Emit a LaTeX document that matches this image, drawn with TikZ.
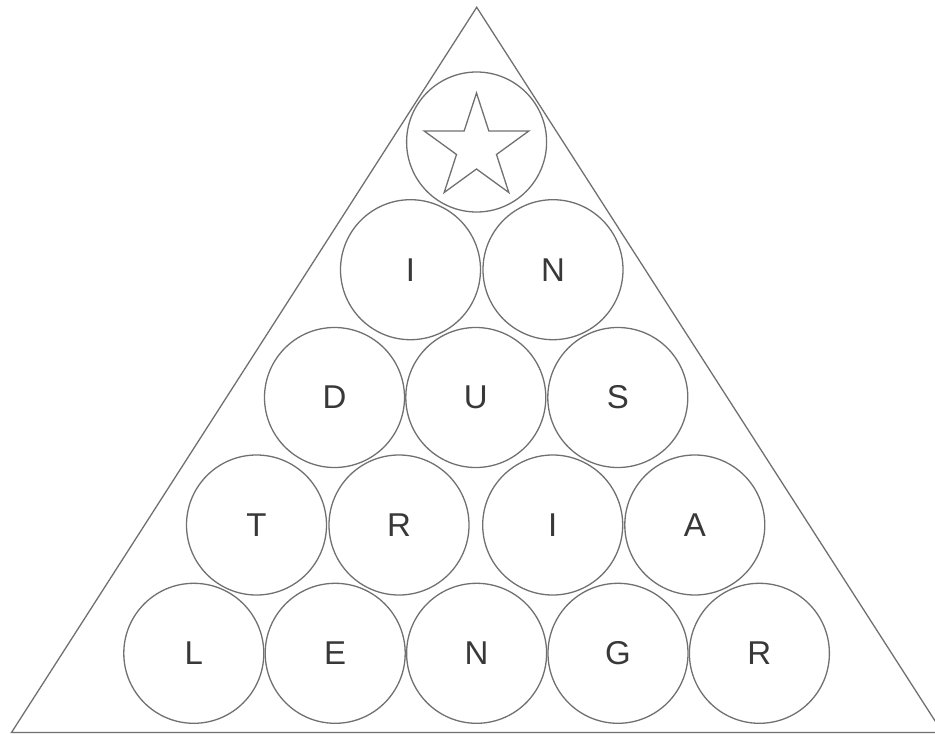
\documentclass[tikz,border=0pt]{standalone}
\usepackage{fontspec}
\setmainfont{Liberation Sans}
\usepackage{xcolor}
\usepackage{tikz}
\usetikzlibrary{shapes,positioning}

\definecolor{lineGray}{HTML}{707070}
\definecolor{letterGray}{HTML}{383838}

\begin{document}
\begin{tikzpicture}[
    x=1pt, y=-1pt,
    ball/.style={circle, draw=lineGray, line width=1.3pt, minimum size=140pt, inner sep=0pt, text=letterGray, font=\fontsize{33}{38}\selectfont},
    edge/.style={draw=lineGray, line width=1.3pt, line join=miter}
]
\useasboundingbox (0,0) rectangle (935,734);
\clip (0,0) rectangle (935,734);
% outer triangle
\coordinate (apex) at (476.7,7.3);
\coordinate (left) at (11.5,732.5);
\coordinate (right) at (942.5,732.5);
\draw[edge] (apex) -- (left) -- (right) -- cycle;
% top
\node[ball] (top) at (476.6,142) {};
\node[star, star points=5, star point ratio=2.618, draw=lineGray, line width=1.3pt, minimum size=110pt, inner sep=0pt] (topStar) at (476.5,148) {};
% row 2
\node[ball] (i1) at (410.5,269.7) {I};
\node[ball] (n1) at (553,269.7) {N};
% row 3
\node[ball] (d) at (334.5,397.5) {D};
\node[ball] (u) at (475.8,397.5) {U};
\node[ball] (s) at (617.8,397.5) {S};
% row 4
\node[ball] (t) at (256.5,525) {T};
\node[ball] (r1) at (399,525) {R};
\node[ball] (i2) at (552.7,525) {I};
\node[ball] (a) at (694.8,525) {A};
% row 5
\node[ball] (l) at (193.8,653.3) {L};
\node[ball] (e) at (335.2,653.3) {E};
\node[ball] (n2) at (476.6,653.3) {N};
\node[ball] (g) at (618,653.3) {G};
\node[ball] (r2) at (759.4,653.3) {R};
\end{tikzpicture}
\end{document}
